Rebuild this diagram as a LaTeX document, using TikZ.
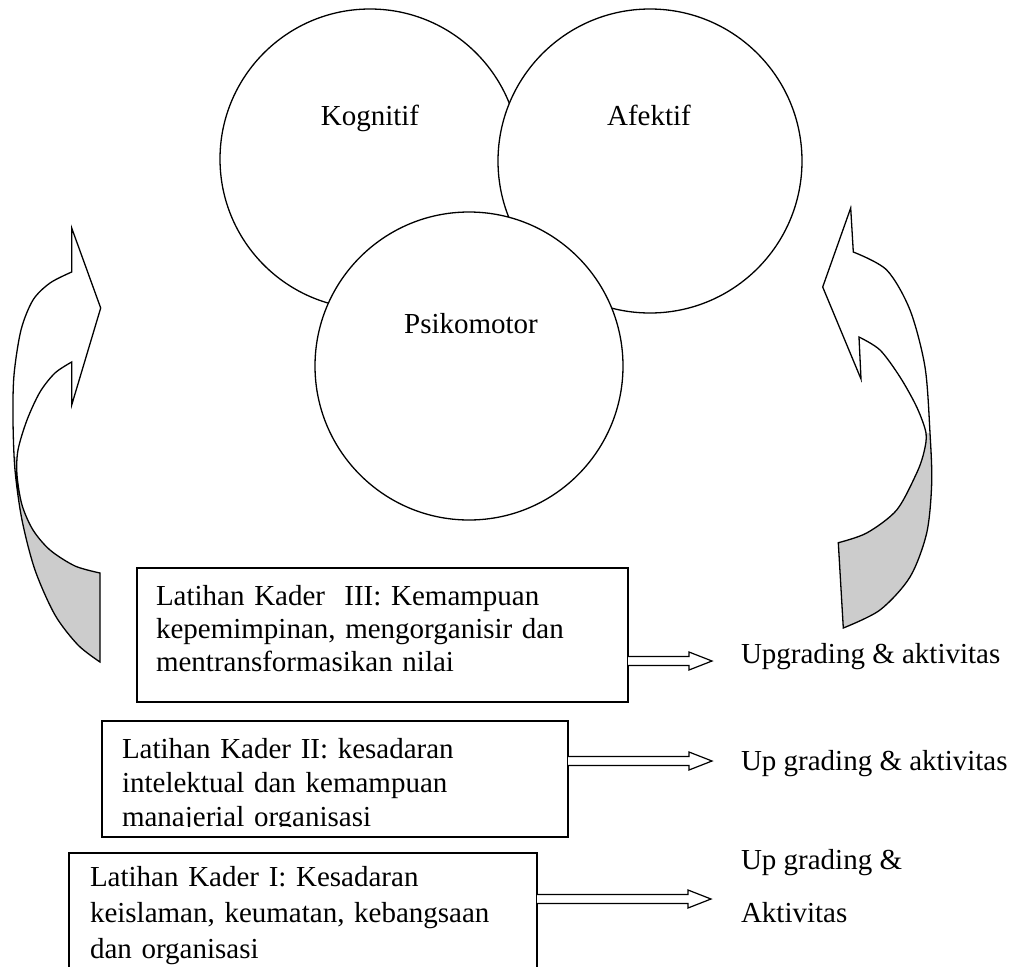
\documentclass[tikz,border=0pt]{standalone}
\usepackage{fontspec}
\setmainfont{Liberation Serif}
\usetikzlibrary{calc}
\begin{document}
\begin{tikzpicture}[x=1pt,y=-1pt,
  every node/.style={inner sep=0pt, outer sep=0pt, font=\fontsize{29}{34}\selectfont},
  ring/.style={circle, draw, line width=1.3pt, fill=white, minimum size=#1},
  frame/.style={draw, line width=1.4pt, anchor=north west},
  boxtext/.style={anchor=north west, text width=470pt, align=left},
  harrow/.style={line width=1.2pt, fill=white, to path={let \p1=(\tikztostart), \p2=(\tikztotarget) in (\x1,\y1+4.5pt) -- (\x2-23pt,\y1+4.5pt) -- (\x2-23pt,\y1+9pt) -- (\x2,\y1) -- (\x2-23pt,\y1-9pt) -- (\x2-23pt,\y1-4.5pt) -- (\x1,\y1-4.5pt)}},
  bendline/.style={line width=1.3pt},
  under/.style={fill=black!20}
]
\useasboundingbox (0,0) rectangle (1021,967);
\clip (0,0) rectangle (1021,967);

% circles
\node[ring=300pt] (kog) at (370,159) {};
\node[ring=304pt] (afe) at (650,161) {};
\node[ring=308pt] (psi) at (469,366) {};
\node[anchor=base] (kogt) at (370,125) {Kognitif};
\node[anchor=base] (afet) at (649,125) {Afektif};
\node[anchor=base] (psit) at (471,333) {Psikomotor};

% left curved arrow
\path[save path=\larr] (71.7,362) -- (71.7,405) -- (100.7,308) -- (71.7,228) -- (71.7,272)
  -- plot[smooth] coordinates {(71.7,272) (50,283) (33,300) (21,330) (14,375) (13,420) (15,470) (22,520) (35,570) (55,615) (78,645) (100,662)}
  -- (100,573)
  -- plot[smooth] coordinates {(100,573) (75,566) (50,550) (33,530) (22,505) (17,475) (18,450) (27,420) (40,392) (55,373) (71.7,362)} -- cycle;
\fill[white, use path=\larr];
\begin{scope}
  \clip (0,457) rectangle (200,700);
  \fill[under, use path=\larr];
\end{scope}
\draw[bendline, use path=\larr];

% right curved arrow
\path[save path=\rarr] (859,337) -- (861,379) -- (822.7,287) -- (850.7,208) -- (853.3,252)
  -- plot[smooth] coordinates {(853.3,252) (886.7,270) (910,310) (925,367) (930,433) (931.7,483) (926.7,533) (910,577) (880,610) (843.3,628)}
  -- (838.3,542.7)
  -- plot[smooth] coordinates {(838.3,542.7) (866.7,533) (896.7,510) (916.7,473) (924,452) (926,433) (916.7,407) (900,377) (880,350) (859,337)} -- cycle;
\fill[white, use path=\rarr];
\begin{scope}
  \clip (800,433) rectangle (1000,700);
  \fill[under, use path=\rarr];
\end{scope}
\draw[bendline, use path=\rarr];

% boxes
\node[frame, minimum width=491pt, minimum height=134pt] (b3) at (137,568) {};
\node[boxtext, font=\fontsize{29}{33}\selectfont] (t3) at (156,581.9) {\strut Latihan Kader\ \ III: Kemampuan\\kepemimpinan, mengorganisir dan\\mentransformasikan nilai};

\node[frame, minimum width=466pt, minimum height=116pt] (b2) at (102,721) {};
\begin{scope}
  \clip (102,721) rectangle (568,826.8);
  \node[boxtext] (t2) at (122,734.2) {\strut Latihan Kader II: kesadaran\\intelektual dan kemampuan\\manajerial organisasi};
\end{scope}

\node[frame, minimum width=468pt, minimum height=150pt] (b1) at (69,853) {};
\node[boxtext, font=\fontsize{29}{36}\selectfont] (t1) at (90,860.8) {\strut Latihan Kader I: Kesadaran\\keislaman, keumatan, kebangsaan\\dan organisasi};

% arrows
\coordinate (e3) at (712,661);
\coordinate (e2) at (712,761);
\coordinate (e1) at (711,899);
\draw[harrow] ($(b3.north east)+(0,93)$) to (e3);
\draw[harrow] ($(b2.north east)+(0,40)$) to (e2);
\draw[harrow] ($(b1.north east)+(0,46)$) to (e1);

% labels
\node[anchor=base west] (u3) at (741,663) {Upgrading \& aktivitas};
\node[anchor=base west] (u2) at (741,770) {Up grading \& aktivitas};
\node[anchor=base west] (u1) at (741,869) {Up grading \&};
\node[anchor=base west] (u1b) at (741,922) {Aktivitas};
\end{tikzpicture}
\end{document}
